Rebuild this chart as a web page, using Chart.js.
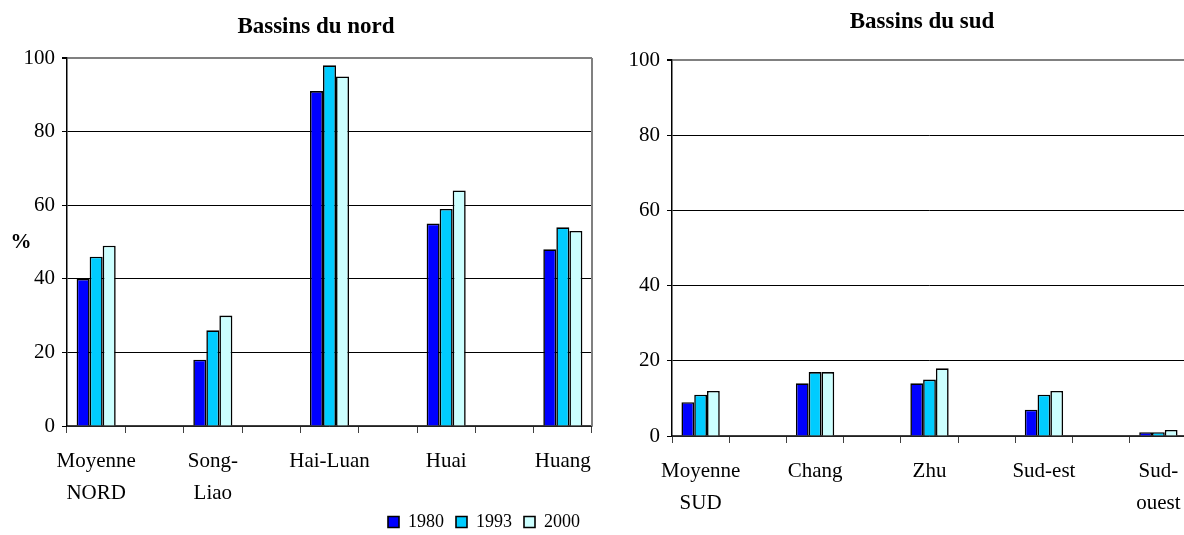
<!DOCTYPE html>
<html>
<head>
<meta charset="utf-8">
<script src="https://cdn.jsdelivr.net/npm/chart.js@4.4.1/dist/chart.umd.min.js"></script>
<style>
    html, body { margin: 0; padding: 0; overflow: hidden; background: #fff; width: 1184px; height: 535px; }
    #nord { position: absolute; left: 0; top: 0; width: 632px; height: 535px; }
    #sud { position: absolute; left: 600px; top: 0; width: 644px; height: 535px; }
</style>
</head>
<body>
<div id="sud"><canvas id="chart-sud"></canvas></div>
<div id="nord"><canvas id="chart-nord"></canvas></div>
<script>
// data (%)
var years = ['1980', '1993', '2000'];
var yTicks = [0, 20, 40, 60, 80, 100];

var nordBasins = [['Moyenne', 'NORD'], ['Song-', 'Liao'], 'Hai-Luan', 'Huai', 'Huang'];
var nord1980 = [40, 18, 91, 55, 48];
var nord1993 = [46, 26, 98, 59, 54];
var nord2000 = [49, 30, 95, 64, 53];

var sudBasins = [['Moyenne', 'SUD'], 'Chang', 'Zhu', 'Sud-est', ['Sud-', 'ouest']];
var sud1980 = [9, 14, 14, 7, 1];
var sud1993 = [11, 17, 15, 11, 1];
var sud2000 = [12, 17, 18, 12, 1.6];

var barColors = {
    y1980: '#0000ff',
    y1993: '#00ccff',
    y2000: '#ccffff'
};

Chart.defaults.font.family = "'Liberation Serif', 'Times New Roman', serif";
Chart.defaults.color = '#000';

// an empty slot between two basins, like in the original sheet
function spread(arr, blank) {
    var out = [];
    for (var i = 0; i < arr.length; i++) {
        if (i > 0) out.push(blank);
        out.push(arr[i]);
    }
    return out;
}

// titles and the "%" label, placed like in the excel sheet (not centred on the canvas)
var sheetText = {
    id: 'sheetText',
    afterDraw: function (chart, args, opts) {
        var ctx = chart.ctx;
        ctx.save();
        ctx.fillStyle = '#000';
        ctx.textAlign = 'center';
        ctx.textBaseline = 'alphabetic';
        ctx.font = "bold 23px 'Liberation Serif'";
        ctx.fillText(opts.title, opts.titleX, opts.titleY);
        if (opts.percent) {
            ctx.font = "bold 21px 'Liberation Serif'";
            ctx.textBaseline = 'middle';
            ctx.fillText('%', 21, (chart.chartArea.top + chart.chartArea.bottom) / 2 + 1);
        }
        ctx.restore();
    }
};

var plotFrame = {
    id: 'plotFrame',
    beforeDatasetsDraw: function (chart) {
        var a = chart.chartArea;
        var ctx = chart.ctx;
        ctx.save();
        ctx.strokeStyle = '#808080';
        ctx.lineWidth = 2;
        ctx.beginPath();
        ctx.moveTo(a.right, a.top);
        ctx.lineTo(a.right, a.bottom);
        ctx.stroke();
        ctx.restore();
    }
};

function getconfig(title, labels, v1980, v1993, v2000, o) {
    var series = [v1980, v1993, v2000];
    var colors = [barColors.y1980, barColors.y1993, barColors.y2000];
    var datasets = [];
    for (var i = 0; i < years.length; i++) {
        datasets.push({
            label: years[i],
            data: spread(series[i], null),
            backgroundColor: colors[i],
            borderColor: '#000',
            borderWidth: 1.6,
            categoryPercentage: 0.67,
            barPercentage: 1.0
        });
    }
    return {
        type: 'bar',
        data: { labels: spread(labels, ''), datasets: datasets },
        options: {
            responsive: true,
            maintainAspectRatio: false,
            animation: false,
            layout: { padding: { left: 0, right: o.padRight, top: o.padTop, bottom: o.padBottom } },
            plugins: {
                title: { display: false },
                legend: {
                    display: o.legend,
                    position: 'bottom',
                    align: 'end',
                    labels: {
                        boxWidth: 11,
                        boxHeight: 11,
                        padding: 12,
                        font: { size: 18 },
                        color: '#000'
                    }
                },
                tooltip: { enabled: false },
                sheetText: { title: title, titleX: o.titleX, titleY: o.titleY, percent: o.percent }
            },
            scales: {
                x: {
                    afterFit: function (scale) { scale.height = o.xHeight; },
                    grid: {
                        offset: true,
                        drawOnChartArea: false,
                        drawTicks: true,
                        tickLength: 7,
                        tickColor: '#404040'
                    },
                    border: { color: '#404040', width: 1.5 },
                    ticks: {
                        autoSkip: false,
                        maxRotation: 0,
                        padding: 13,
                        font: { size: 21, lineHeight: 1.5 },
                        color: '#000'
                    }
                },
                y: {
                    min: 0,
                    max: 100,
                    afterFit: function (scale) { scale.width = o.yWidth; },
                    afterBuildTicks: function (scale) {
                        scale.ticks = yTicks.map(function (v) { return { value: v }; });
                    },
                    grid: {
                        color: function (c) { return c.tick && c.tick.value === 100 ? '#808080' : '#000'; },
                        lineWidth: function (c) { return c.tick && c.tick.value === 100 ? 2 : 1; },
                        tickLength: 5,
                        tickColor: '#000'
                    },
                    border: { color: '#000', width: 1.5 },
                    ticks: {
                        padding: 7,
                        font: { size: 21 },
                        color: '#000'
                    }
                }
            }
        },
        plugins: [sheetText, plotFrame]
    };
}

window.onload = function () {
    var ctxN = document.getElementById('chart-nord').getContext('2d');
    window.nordChart = new Chart(ctxN, getconfig('Bassins du nord', nordBasins, nord1980, nord1993, nord2000, {
        padRight: 40, padTop: 58, padBottom: -6, titleX: 316, titleY: 33,
        xHeight: 75, yWidth: 67, legend: true, percent: true
    }));

    var ctxS = document.getElementById('chart-sud').getContext('2d');
    window.sudChart = new Chart(ctxS, getconfig('Bassins du sud', sudBasins, sud1980, sud1993, sud2000, {
        padRight: 57, padTop: 60, padBottom: 0, titleX: 322, titleY: 28,
        xHeight: 99, yWidth: 72, legend: false, percent: false
    }));
};
</script>
</body>
</html>
